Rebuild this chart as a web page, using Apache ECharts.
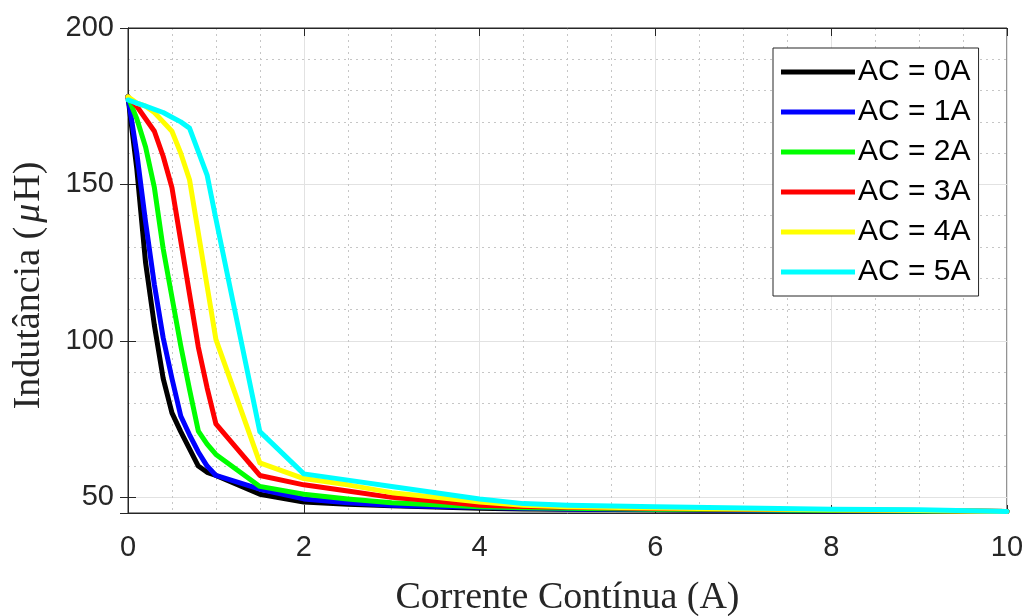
<!DOCTYPE html>
<html>
<head>
<meta charset="utf-8">
<title>Indutância x Corrente Contínua</title>
<script src="https://cdn.jsdelivr.net/npm/echarts@6/dist/echarts.min.js"></script>
<style>
  html, body { margin: 0; padding: 0; background: #fff; }
  #chart { width: 1032px; height: 616px; }
</style>
</head>
<body>
<div id="chart"></div>
<script>
// Corrente contínua (A) at which the inductance was measured
const correnteDC = [0, 0.1, 0.2, 0.3, 0.4, 0.5, 0.6, 0.7, 0.8, 0.9, 1.0, 1.5, 2, 2.5, 3, 3.5, 4, 4.5, 5, 6, 7, 8, 9, 10];

// Indutância (µH) for each AC amplitude
const ac0A = [178, 155, 125, 105, 88, 77, 71, 65.5, 60, 58, 57, 51, 48.5, 47.8, 47.3, 46.9, 46.5, 46.3, 46.2, 46, 45.9, 45.7, 45.6, 45.5];
const ac1A = [178, 160, 138, 118, 101, 88, 76, 70, 64.5, 60, 57, 52.6, 49.5, 48.3, 47.5, 47.1, 46.8, 46.5, 46.3, 46.1, 45.9, 45.7, 45.6, 45.5];
const ac2A = [178, 171, 162, 149, 129.5, 114, 98.5, 84.5, 71.2, 67, 63.7, 53.5, 51, 49.5, 48.3, 47.6, 47, 46.7, 46.5, 46.2, 46, 45.8, 45.6, 45.5];
const ac3A = [178, 175, 171, 167, 159, 149, 132, 115, 98, 85, 73.5, 57, 54, 52, 50, 48.8, 47.5, 47.1, 46.8, 46.4, 46.2, 46, 45.8, 45.5];
const ac4A = [178, 176, 175, 173, 170, 167, 160, 151.5, 134.5, 117.5, 100.5, 61, 56, 54, 51.5, 50, 48.5, 47.5, 47, 46.6, 46.3, 46, 45.8, 45.5];
const ac5A = [177, 176, 175, 174, 173, 171.5, 170, 168, 160.5, 153, 139, 71, 57.5, 55.5, 53.5, 51.5, 49.5, 48, 47.5, 47, 46.6, 46.2, 46, 45.5];

const seriesNames = ['AC = 0A', 'AC = 1A', 'AC = 2A', 'AC = 3A', 'AC = 4A', 'AC = 5A'];
const seriesValues = [ac0A, ac1A, ac2A, ac3A, ac4A, ac5A];
const seriesColors = ['#000000', '#0000ff', '#00ff00', '#ff0000', '#ffff00', '#00ffff'];

// axis ranges and tick labels
const xTicks = [0, 2, 4, 6, 8, 10];
const yTicks = [50, 100, 150, 200];
const yMin = 45;
const yMax = 200;

const textColor = '#262626';
const majorGrid = '#e2e2e2';
const minorGrid = '#c6c6c6';
const sansFont = 'Liberation Sans, Arial, sans-serif';
const serifFont = 'Liberation Serif, Times New Roman, serif';

const chart = echarts.init(document.getElementById('chart'), null, { renderer: 'canvas' });

const series = seriesNames.map((name, i) => ({
  name: name,
  type: 'line',
  xAxisIndex: 0,
  yAxisIndex: 0,
  symbol: 'none',
  smooth: false,
  animation: false,
  lineStyle: { width: 5, color: seriesColors[i], join: 'round', cap: 'round' },
  itemStyle: { color: seriesColors[i] },
  data: correnteDC.map((x, k) => [x, seriesValues[i][k]])
}));

const option = {
  backgroundColor: '#ffffff',
  animation: false,
  grid: {
    left: 128, right: 25, top: 28, bottom: 103,
    containLabel: false, outerBoundsMode: 'none',
    show: true, borderColor: textColor, borderWidth: 1, backgroundColor: 'transparent'
  },
  legend: {
    orient: 'vertical',
    left: 773, top: 48,
    padding: [9, 8, 9, 8],
    itemWidth: 74, itemHeight: 5, itemGap: 10,
    icon: 'rect',
    backgroundColor: '#ffffff',
    borderColor: textColor, borderWidth: 1,
    textStyle: { fontFamily: sansFont, fontSize: 30, color: '#000', lineHeight: 30, padding: [0, 0, 0, -2] },
    data: seriesNames
  },
  xAxis: [{
    type: 'value',
    min: xTicks[0], max: xTicks[xTicks.length - 1], interval: 2,
    name: 'Corrente Contínua (A)',
    nameLocation: 'middle', nameGap: 66,
    nameTextStyle: { fontFamily: serifFont, fontSize: 38, color: textColor },
    axisLine: { show: true, lineStyle: { color: textColor, width: 1 } },
    axisTick: { show: true, inside: true, length: 8, lineStyle: { color: textColor } },
    axisLabel: { fontFamily: sansFont, fontSize: 29, color: textColor, margin: 20 },
    splitLine: { show: true, lineStyle: { color: majorGrid, width: 1 } },
    minorTick: { show: false, splitNumber: 4 },
    minorSplitLine: { show: true, lineStyle: { color: minorGrid, width: 1, type: [2, 4] } }
  }, {
    type: 'value', position: 'top',
    min: xTicks[0], max: xTicks[xTicks.length - 1], interval: 2,
    axisLine: { show: true, lineStyle: { color: textColor, width: 1 } },
    axisTick: { show: true, inside: true, length: 8, lineStyle: { color: textColor } },
    axisLabel: { show: false },
    splitLine: { show: false }
  }],
  yAxis: [{
    type: 'value',
    min: yMin, max: yMax, splitNumber: 3,
    name: 'Indutância ({mu|μ}H)',
    nameLocation: 'middle', nameGap: 80, nameRotate: 90,
    nameTextStyle: {
      fontFamily: serifFont, fontSize: 38, color: textColor, padding: [0, 30, 0, 0],
      rich: { mu: { fontFamily: serifFont, fontSize: 38, fontStyle: 'italic', color: textColor, padding: [0, 2, 0, 4] } }
    },
    axisLine: { show: true, lineStyle: { color: textColor, width: 1 } },
    axisTick: { show: true, inside: true, length: 8, lineStyle: { color: textColor } },
    axisLabel: {
      fontFamily: sansFont, fontSize: 29, color: textColor, margin: 14,
      formatter: v => (yTicks.indexOf(v) >= 0 ? String(v) : '')
    },
    splitLine: { show: true, lineStyle: { color: majorGrid, width: 1 } },
    minorTick: { show: false, splitNumber: 5 },
    minorSplitLine: { show: true, lineStyle: { color: minorGrid, width: 1, type: [2, 4] } }
  }, {
    type: 'value', position: 'right',
    min: yMin, max: yMax, splitNumber: 3,
    axisLine: { show: true, lineStyle: { color: textColor, width: 1 } },
    axisTick: { show: true, inside: true, length: 8, lineStyle: { color: textColor } },
    axisLabel: { show: false },
    splitLine: { show: false }
  }],
  series: series
};

chart.setOption(option);
</script>
</body>
</html>
